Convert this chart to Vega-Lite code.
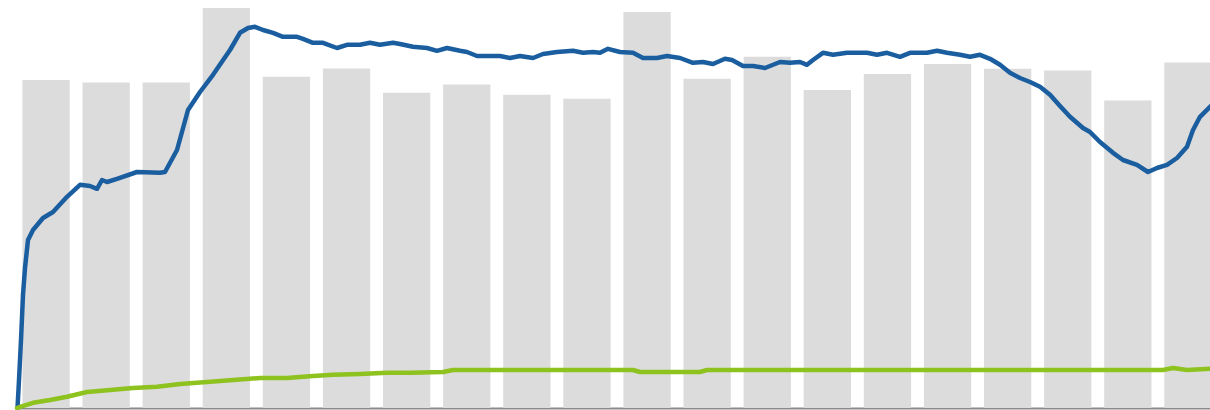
{
  "$schema": "https://vega.github.io/schema/vega-lite/v6.json",
  "autosize": {"type": "none"},
  "padding": {"left": 17, "top": 8, "right": 0, "bottom": 2},
  "width": 1200,
  "height": 400,
  "background": "white",
  "config": {"view": {"stroke": null}},
  "datasets": {
    "bars": [
      {"bar": 1, "v": 82}, {"bar": 2, "v": 81.4}, {"bar": 3, "v": 81.4}, {"bar": 4, "v": 100},
      {"bar": 5, "v": 82.8}, {"bar": 6, "v": 84.9}, {"bar": 7, "v": 78.8}, {"bar": 8, "v": 80.9},
      {"bar": 9, "v": 78.3}, {"bar": 10, "v": 77.3}, {"bar": 11, "v": 99}, {"bar": 12, "v": 82.3},
      {"bar": 13, "v": 87.8}, {"bar": 14, "v": 79.5}, {"bar": 15, "v": 83.5}, {"bar": 16, "v": 86},
      {"bar": 17, "v": 84.8}, {"bar": 18, "v": 84.4}, {"bar": 19, "v": 76.9}, {"bar": 20, "v": 86.4}
    ],
    "lines": [
      {"s": "blue", "t": 0.5, "v": 0}, {"s": "blue", "t": 2, "v": 7}, {"s": "blue", "t": 4, "v": 17},
      {"s": "blue", "t": 6, "v": 28.3}, {"s": "blue", "t": 8, "v": 35}, {"s": "blue", "t": 11, "v": 42},
      {"s": "blue", "t": 16, "v": 44.5}, {"s": "blue", "t": 26, "v": 47.5}, {"s": "blue", "t": 36, "v": 49},
      {"s": "blue", "t": 50, "v": 52.8}, {"s": "blue", "t": 63, "v": 55.8}, {"s": "blue", "t": 73, "v": 55.5},
      {"s": "blue", "t": 80, "v": 54.8}, {"s": "blue", "t": 85, "v": 57}, {"s": "blue", "t": 90, "v": 56.5},
      {"s": "blue", "t": 100, "v": 57.3}, {"s": "blue", "t": 120, "v": 59}, {"s": "blue", "t": 143, "v": 58.8},
      {"s": "blue", "t": 148, "v": 59}, {"s": "blue", "t": 160, "v": 64.5}, {"s": "blue", "t": 171, "v": 74.5},
      {"s": "blue", "t": 183, "v": 79}, {"s": "blue", "t": 196, "v": 83.3}, {"s": "blue", "t": 213, "v": 89.5},
      {"s": "blue", "t": 223, "v": 93.8}, {"s": "blue", "t": 231, "v": 95}, {"s": "blue", "t": 238, "v": 95.3},
      {"s": "blue", "t": 246, "v": 94.5}, {"s": "blue", "t": 256, "v": 93.8}, {"s": "blue", "t": 266, "v": 92.8},
      {"s": "blue", "t": 280, "v": 92.8}, {"s": "blue", "t": 286, "v": 92.3}, {"s": "blue", "t": 296, "v": 91.3},
      {"s": "blue", "t": 306, "v": 91.3}, {"s": "blue", "t": 320, "v": 90}, {"s": "blue", "t": 330, "v": 90.8},
      {"s": "blue", "t": 343, "v": 90.8}, {"s": "blue", "t": 353, "v": 91.3}, {"s": "blue", "t": 363, "v": 90.8},
      {"s": "blue", "t": 376, "v": 91.3}, {"s": "blue", "t": 383, "v": 91}, {"s": "blue", "t": 396, "v": 90.3},
      {"s": "blue", "t": 410, "v": 90}, {"s": "blue", "t": 420, "v": 89.3}, {"s": "blue", "t": 430, "v": 90},
      {"s": "blue", "t": 443, "v": 89.3}, {"s": "blue", "t": 450, "v": 89}, {"s": "blue", "t": 460, "v": 88},
      {"s": "blue", "t": 473, "v": 88}, {"s": "blue", "t": 483, "v": 88}, {"s": "blue", "t": 493, "v": 87.5},
      {"s": "blue", "t": 503, "v": 88}, {"s": "blue", "t": 516, "v": 87.5}, {"s": "blue", "t": 526, "v": 88.5},
      {"s": "blue", "t": 540, "v": 89}, {"s": "blue", "t": 556, "v": 89.3}, {"s": "blue", "t": 566, "v": 88.8},
      {"s": "blue", "t": 576, "v": 89}, {"s": "blue", "t": 583, "v": 88.8}, {"s": "blue", "t": 591, "v": 89.8},
      {"s": "blue", "t": 603, "v": 89}, {"s": "blue", "t": 616, "v": 88.8}, {"s": "blue", "t": 626, "v": 87.5},
      {"s": "blue", "t": 640, "v": 87.5}, {"s": "blue", "t": 650, "v": 88}, {"s": "blue", "t": 663, "v": 87.5},
      {"s": "blue", "t": 676, "v": 86.3}, {"s": "blue", "t": 686, "v": 86.5}, {"s": "blue", "t": 696, "v": 86},
      {"s": "blue", "t": 708, "v": 87.3}, {"s": "blue", "t": 715, "v": 87}, {"s": "blue", "t": 726, "v": 85.5},
      {"s": "blue", "t": 736, "v": 85.5}, {"s": "blue", "t": 748, "v": 85}, {"s": "blue", "t": 763, "v": 86.5},
      {"s": "blue", "t": 773, "v": 86.3}, {"s": "blue", "t": 783, "v": 86.5}, {"s": "blue", "t": 790, "v": 85.8},
      {"s": "blue", "t": 796, "v": 87}, {"s": "blue", "t": 806, "v": 88.8}, {"s": "blue", "t": 816, "v": 88.3},
      {"s": "blue", "t": 830, "v": 88.8}, {"s": "blue", "t": 850, "v": 88.8}, {"s": "blue", "t": 860, "v": 88.3},
      {"s": "blue", "t": 870, "v": 88.8}, {"s": "blue", "t": 883, "v": 87.8}, {"s": "blue", "t": 893, "v": 88.8},
      {"s": "blue", "t": 910, "v": 88.8}, {"s": "blue", "t": 920, "v": 89.3}, {"s": "blue", "t": 930, "v": 88.8},
      {"s": "blue", "t": 943, "v": 88.3}, {"s": "blue", "t": 953, "v": 87.8}, {"s": "blue", "t": 963, "v": 88.3},
      {"s": "blue", "t": 973, "v": 87.3}, {"s": "blue", "t": 983, "v": 85.8}, {"s": "blue", "t": 993, "v": 83.8},
      {"s": "blue", "t": 1003, "v": 82.5}, {"s": "blue", "t": 1013, "v": 81.5}, {"s": "blue", "t": 1023, "v": 80.3},
      {"s": "blue", "t": 1033, "v": 78.3}, {"s": "blue", "t": 1043, "v": 75.5}, {"s": "blue", "t": 1053, "v": 72.8},
      {"s": "blue", "t": 1066, "v": 70}, {"s": "blue", "t": 1073, "v": 69}, {"s": "blue", "t": 1083, "v": 66.5},
      {"s": "blue", "t": 1096, "v": 63.8}, {"s": "blue", "t": 1106, "v": 62}, {"s": "blue", "t": 1120, "v": 60.8},
      {"s": "blue", "t": 1131, "v": 59}, {"s": "blue", "t": 1140, "v": 60}, {"s": "blue", "t": 1150, "v": 60.8},
      {"s": "blue", "t": 1160, "v": 62.5}, {"s": "blue", "t": 1170, "v": 65.3}, {"s": "blue", "t": 1176, "v": 69.5},
      {"s": "blue", "t": 1183, "v": 72.8}, {"s": "blue", "t": 1193, "v": 75.3}, {"s": "blue", "t": 1200, "v": 77},
      {"s": "green", "t": 0, "v": 0}, {"s": "green", "t": 3, "v": 0.3}, {"s": "green", "t": 16, "v": 1.3},
      {"s": "green", "t": 33, "v": 2}, {"s": "green", "t": 50, "v": 2.8}, {"s": "green", "t": 70, "v": 4},
      {"s": "green", "t": 93, "v": 4.5}, {"s": "green", "t": 116, "v": 5}, {"s": "green", "t": 140, "v": 5.3},
      {"s": "green", "t": 163, "v": 6}, {"s": "green", "t": 190, "v": 6.5}, {"s": "green", "t": 216, "v": 7},
      {"s": "green", "t": 243, "v": 7.5}, {"s": "green", "t": 270, "v": 7.5}, {"s": "green", "t": 296, "v": 8},
      {"s": "green", "t": 316, "v": 8.3}, {"s": "green", "t": 343, "v": 8.5}, {"s": "green", "t": 370, "v": 8.8},
      {"s": "green", "t": 393, "v": 8.8}, {"s": "green", "t": 426, "v": 9}, {"s": "green", "t": 436, "v": 9.5},
      {"s": "green", "t": 616, "v": 9.5}, {"s": "green", "t": 623, "v": 9}, {"s": "green", "t": 683, "v": 9},
      {"s": "green", "t": 690, "v": 9.5}, {"s": "green", "t": 1146, "v": 9.5}, {"s": "green", "t": 1156, "v": 10},
      {"s": "green", "t": 1170, "v": 9.5}, {"s": "green", "t": 1193, "v": 9.8}, {"s": "green", "t": 1200, "v": 9.8}
    ]
  },
  "layer": [
    {
      "data": {"name": "bars"},
      "mark": {"type": "bar", "color": "#dcdcdc", "clip": false},
      "encoding": {
        "x": {
          "field": "bar", "type": "ordinal",
          "scale": {"paddingInner": 0.213, "paddingOuter": 0.09},
          "axis": {"domain": true, "domainColor": "#8a8a8a", "domainWidth": 2, "ticks": false, "labels": false, "title": null, "grid": false}
        },
        "y": {
          "field": "v", "type": "quantitative",
          "scale": {"domain": [0, 100], "nice": false},
          "axis": {"domain": true, "domainColor": "#707070", "domainWidth": 2, "ticks": false, "labels": false, "title": null, "grid": false}
        }
      }
    },
    {
      "data": {"name": "lines"},
      "mark": {"type": "line", "strokeWidth": 4.5, "strokeJoin": "round", "strokeCap": "round", "clip": false},
      "encoding": {
        "x": {"field": "t", "type": "quantitative", "scale": {"domain": [0, 1200], "nice": false, "zero": false}, "axis": null},
        "y": {"field": "v", "type": "quantitative", "scale": {"domain": [0, 100], "nice": false}, "axis": null},
        "color": {"field": "s", "type": "nominal", "scale": {"domain": ["blue", "green"], "range": ["#1b5e9f", "#8dc21f"]}, "legend": null}
      }
    }
  ],
  "resolve": {"scale": {"x": "independent"}}
}
